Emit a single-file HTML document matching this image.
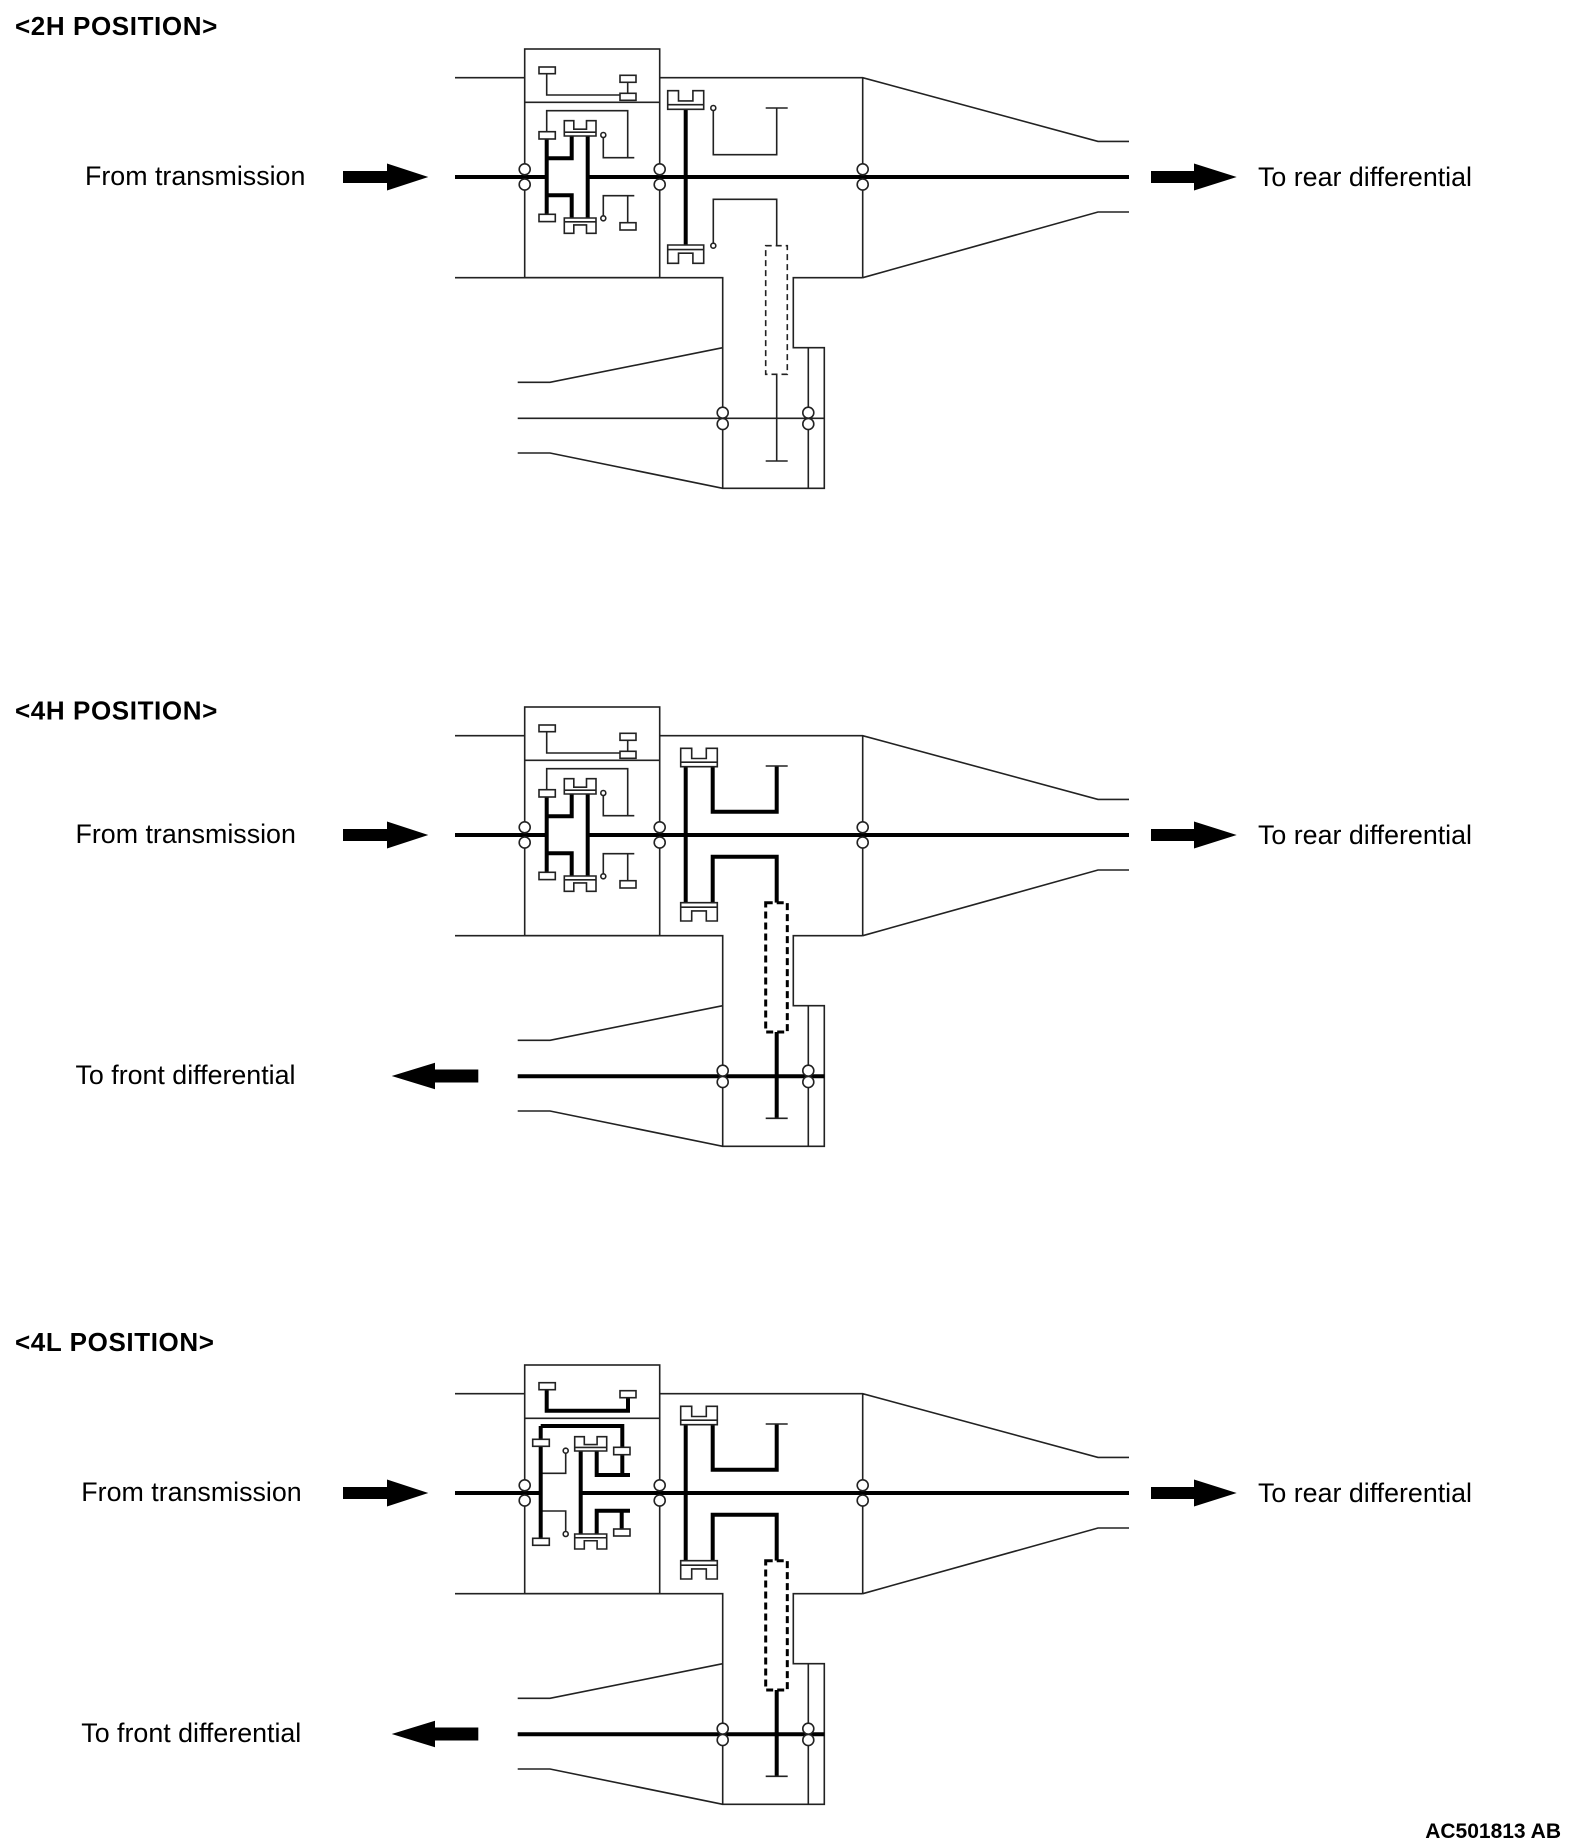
<!DOCTYPE html>
<html><head><meta charset="utf-8">
<style>
html,body{margin:0;padding:0;background:#fff;}
svg{display:block;}
.t{stroke:#222;stroke-width:1.6;fill:none;}
.k{stroke:#000;stroke-width:4;fill:none;}
.r{stroke:#222;stroke-width:1.6;fill:#fff;}
.c{stroke:#222;stroke-width:1.6;fill:#fff;}
text{font-family:"Liberation Sans",Arial,sans-serif;fill:#000;}
.ti{font-size:26px;font-weight:bold;letter-spacing:0.6px;}
.lb{font-size:26.8px;}
</style></head><body>
<svg width="1572" height="1848" viewBox="0 0 1572 1848" xmlns="http://www.w3.org/2000/svg">
<defs>
<g id="housing">
  <rect class="t" x="524.7" y="49" width="135" height="228.7"/>
  <path class="t" d="M524.7,102.3H659.7"/>
  <path class="t" d="M455,77.7H524.7 M659.7,77.7H862.7L1098,141.4H1129 M862.7,77.7V277.7 M862.7,277.7L1098,212H1129 M455,277.7H722.7V488.3H824.3V347.7H793.3V277.7H862.7 M808.3,347.7V488.3 M517.7,382.3H550L722.7,347.7 M517.7,453H550L722.7,488.3"/>
</g>
<g id="bear">
  <circle class="c" cx="524.7" cy="169.3" r="5.5"/><circle class="c" cx="524.7" cy="184.5" r="5.5"/>
  <circle class="c" cx="659.7" cy="169.3" r="5.5"/><circle class="c" cx="659.7" cy="184.5" r="5.5"/>
  <circle class="c" cx="862.7" cy="169.3" r="5.5"/><circle class="c" cx="862.7" cy="184.5" r="5.5"/>
  <circle class="c" cx="722.7" cy="412.7" r="5.5"/><circle class="c" cx="722.7" cy="424" r="5.5"/>
  <circle class="c" cx="808.3" cy="412.7" r="5.5"/><circle class="c" cx="808.3" cy="424" r="5.5"/>
</g>
<g id="frontbox">
  <path class="t" d="M546.7,73.7V95H627.7V82.3"/>
  <rect class="r" x="539" y="67" width="16.3" height="6.7"/>
  <rect class="r" x="620" y="75.3" width="16" height="7"/>
  <path class="t" d="M546.7,131.7V110.7H627.7V157.7 M603.3,137.5V157.7H634.3 M603.3,215.8V195.7H634.3 M627.7,195.7V222.7"/>
  <rect class="r" x="620" y="93.3" width="16" height="7"/>
  <rect class="r" x="620" y="222.7" width="16" height="7.3"/>
  <circle class="c" cx="603.3" cy="135" r="2.5"/>
  <circle class="c" cx="603.3" cy="218.3" r="2.5"/>
  <path class="k" d="M546.7,139V214.3 M546.7,158.3H571.7V136 M546.7,195.3H571.7V218 M587.7,136V218 M455,177H546.7 M587.7,177H659.7"/>
  <rect class="r" x="539" y="131.7" width="16.3" height="7.3"/>
  <rect class="r" x="539" y="214.3" width="16.3" height="7.3"/>
  <path class="r" d="M564.3,136V120.7H573.8V129.2H586.5V120.7H596V136Z M564.3,132.2H596"/>
  <path class="r" d="M564.3,218V233.3H573.8V224.9H586.5V233.3H596V218Z M564.3,221.8H596"/>
</g>
<g id="arrows">
  <polygon points="343,171 387,171 387,163.5 428.3,177 387,190.5 387,183 343,183" fill="#000"/>
  <polygon points="1151,171 1194,171 1194,163.5 1236.7,177 1194,190.5 1194,183 1151,183" fill="#000"/>
</g>
</defs>

<text class="ti" x="15" y="35">&lt;2H POSITION&gt;</text>
<text class="lb" x="85" y="185">From transmission</text>
<text class="lb" x="1258" y="186">To rear differential</text>
<use href="#arrows"/>
<use href="#housing"/>
<path class="k" d="M659.7,177H1129"/>
<use href="#frontbox"/>
<path class="t" d="M713.3,110.5V154.7H776.7V108 M765.7,108H787.7 M713.3,243.2V199.3H776.7V245.7 M776.7,374.3V461 M765.7,461H787.7 M517.7,418.3H824.3"/>
<rect x="765.7" y="245.7" width="21.6" height="128.6" fill="#fff" stroke="#222" stroke-width="1.6" stroke-dasharray="6,4"/>
<circle class="c" cx="713.3" cy="108" r="2.5"/>
<circle class="c" cx="713.3" cy="245.7" r="2.5"/>
<path class="k" d="M685.7,109.3V245"/>
<path class="r" d="M667.7,109.3V90.7H678.5V100.9H692.9V90.7H703.7V109.3Z M667.7,104.7H703.7"/>
<path class="r" d="M667.7,245V263.3H678.5V253.2H692.9V263.3H703.7V245Z M667.7,249.6H703.7"/>
<use href="#bear"/>

<text class="ti" x="15" y="719.5">&lt;4H POSITION&gt;</text>
<text class="lb" x="75.5" y="843">From transmission</text>
<text class="lb" x="1258" y="844">To rear differential</text>
<text class="lb" x="75.5" y="1084">To front differential</text>
<polygon points="391.7,1076 435,1062.7 435,1069.5 478.3,1069.5 478.3,1082.5 435,1082.5 435,1089.3" fill="#000"/>
<g transform="translate(0,658)">
<use href="#arrows"/>
<use href="#housing"/>
<path class="k" d="M659.7,177H1129"/>
<use href="#frontbox"/>
<path class="k" d="M712.7,108.7V153.7H776.7V108 M712.7,244.7V198.7H776.7V244.7 M776.7,374V460.3 M517.7,418.3H824.3"/>
<path class="t" d="M765.7,108H787.7 M765.7,460.3H787.7"/>
<rect x="765.7" y="244.7" width="21.6" height="129.3" fill="#fff" stroke="#000" stroke-width="3" stroke-dasharray="7,4"/>
<path class="k" d="M685.7,108.7V244.7"/>
<path class="r" d="M680.7,108.7V90.3H691.7V100.5H706.3V90.3H717.3V108.7Z M680.7,104.2H717.3"/>
<path class="r" d="M680.7,244.7V263H691.7V252.9H706.3V263H717.3V244.7Z M680.7,249.2H717.3"/>
<use href="#bear"/>
</g>

<text class="ti" x="15" y="1351">&lt;4L POSITION&gt;</text>
<text class="lb" x="81.3" y="1501">From transmission</text>
<text class="lb" x="1258" y="1502">To rear differential</text>
<text class="lb" x="81.3" y="1742">To front differential</text>
<polygon points="391.7,1734 435,1720.7 435,1727.5 478.3,1727.5 478.3,1740.5 435,1740.5 435,1747.3" fill="#000"/>
<g transform="translate(0,1316)">
<use href="#arrows"/>
<use href="#housing"/>
<path class="k" d="M455,177H540.7 M580.7,177H1129"/>
<path class="k" d="M546.7,73.7V94.7H628V81.7"/>
<rect class="r" x="539" y="66.7" width="16.3" height="7"/>
<rect class="r" x="620" y="74.7" width="16" height="7"/>
<path class="t" d="M540.7,157.3H565.7V137.2 M540.7,195H565.7V215.5"/>
<circle class="c" cx="565.7" cy="134.7" r="2.5"/>
<circle class="c" cx="565.7" cy="218" r="2.5"/>
<path class="k" d="M540.7,110V222.3 M540.7,110H622.3V159 M596.7,135V159H630 M580.7,135V218 M596.7,218V194.7H630 M621.7,194.7V213"/>
<rect class="r" x="532.7" y="123.3" width="16.6" height="7"/>
<rect class="r" x="532.7" y="222.3" width="16.6" height="7"/>
<rect class="r" x="613.7" y="131.3" width="16.3" height="7.4"/>
<rect class="r" x="613.7" y="213" width="16.3" height="7"/>
<path class="r" d="M574.7,135V120.7H584.3V128.6H597.1V120.7H606.7V135Z M574.7,131.4H606.7"/>
<path class="r" d="M574.7,218V233H584.3V224.75H597.1V233H606.7V218Z M574.7,221.75H606.7"/>
<path class="k" d="M712.7,108.7V153.7H776.7V108 M712.7,244.7V198.7H776.7V244.7 M776.7,374V460.3 M517.7,418.3H824.3"/>
<path class="t" d="M765.7,108H787.7 M765.7,460.3H787.7"/>
<rect x="765.7" y="244.7" width="21.6" height="129.3" fill="#fff" stroke="#000" stroke-width="3" stroke-dasharray="7,4"/>
<path class="k" d="M685.7,108.7V244.7"/>
<path class="r" d="M680.7,108.7V90.3H691.7V100.5H706.3V90.3H717.3V108.7Z M680.7,104.2H717.3"/>
<path class="r" d="M680.7,244.7V263H691.7V252.9H706.3V263H717.3V244.7Z M680.7,249.2H717.3"/>
<use href="#bear"/>
</g>

<text x="1561" y="1838" text-anchor="end" style="font-size:21px;font-weight:bold;">AC501813 AB</text>
</svg>
</body></html>
